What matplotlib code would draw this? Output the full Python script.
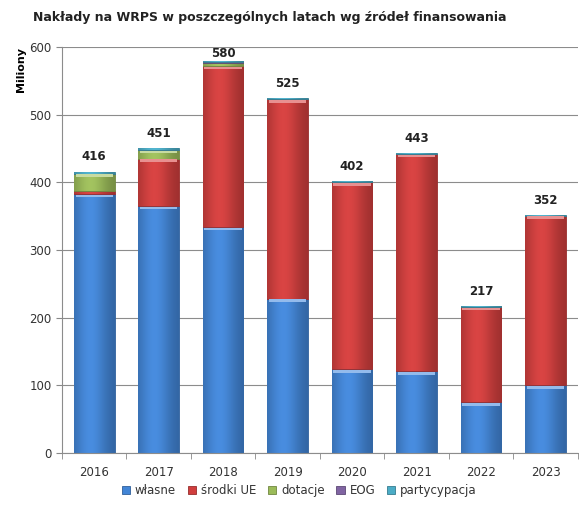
import numpy as np
import matplotlib
matplotlib.use("Agg")
import matplotlib.pyplot as plt
from matplotlib.colors import to_rgb

# dane (mln zł)
lata = ["2016", "2017", "2018", "2019", "2020", "2021", "2022", "2023"]
wlasne = [383, 365, 334, 228, 124, 121, 75, 100]
srodki_ue = [4, 70, 238, 295, 276, 321, 141, 251]
dotacje = [26, 13, 4, 0, 0, 0, 0, 0]
eog = [0, 0, 2, 0, 0, 0, 0, 0]
partycypacja = [3, 3, 2, 2, 2, 1, 1, 1]
sumy = [416, 451, 580, 525, 402, 443, 217, 352]

serie = ["własne", "środki UE", "dotacje", "EOG", "partycypacja"]
kolory = ["#4285d6", "#d03e3d", "#9bbb59", "#8064a2", "#4bacc6"]


def gradient_slupka(ax, patch, kolor):
    # poziomy gradient w stylu Excela, przycięty do prostokąta
    x0, y0 = patch.get_x(), patch.get_y()
    w, h = patch.get_width(), patch.get_height()
    if h <= 0:
        return
    c = np.array(to_rgb(kolor))
    ciemny = c * 0.74
    jasny = np.clip(c * 1.02 + 0.02, 0, 1)
    t = np.linspace(0, 1, 64)
    p = np.exp(-((t - 0.4) / 0.4) ** 2)
    img = ciemny[None, :] + (jasny - ciemny)[None, :] * p[:, None]
    img = img[None, :, :]
    im = ax.imshow(img, extent=(x0, x0 + w, y0, y0 + h), aspect="auto",
                   interpolation="bilinear", zorder=2)
    im.set_clip_path(patch)
    # jasny pasek u góry segmentu
    if h > 10:
        ax.bar(x0 + w / 2, 4, width=w * 0.92, bottom=y0 + h - 5,
               color=np.clip(c * 0.6 + 0.42, 0, 1), zorder=3, linewidth=0)


fig = plt.figure(figsize=(5.79, 5.07), dpi=100)
ax = fig.add_axes([0.107, 0.1065, 0.891, 0.8005])

x = np.arange(len(lata))
szer = 0.63
dol = np.zeros(len(lata))
for nazwa, wart, kol in zip(serie, [wlasne, srodki_ue, dotacje, eog, partycypacja], kolory):
    wart = np.array(wart, dtype=float)
    slupki = ax.bar(x, wart, width=szer, bottom=dol, color=kol, label=nazwa,
                    edgecolor=np.array(to_rgb(kol)) * 0.72, linewidth=0.6, zorder=2)
    for p in slupki:
        gradient_slupka(ax, p, kol)
    dol += wart

for i, s in enumerate(sumy):
    ax.text(x[i], min(s + 22, 591), str(s), ha="center", va="center",
            fontsize=8.5, fontweight="bold", color="#222222")

ax.set_xlim(-0.5, len(lata) - 0.5)
ax.set_ylim(0, 600)
ax.set_yticks(np.arange(0, 601, 100))
ax.set_xticks(x)
ax.set_xticklabels(lata)
ax.set_xticks(np.arange(-0.5, len(lata), 1), minor=True)
ax.tick_params(axis="x", which="major", length=0, pad=9, labelsize=8.5, labelcolor="#333333")
ax.tick_params(axis="x", which="minor", length=4, color="#888888")
ax.tick_params(axis="y", length=4, color="#888888", labelsize=8.5, labelcolor="#333333")
ax.grid(axis="y", color="#8c8c8c", linewidth=0.8, zorder=0)
ax.set_axisbelow(True)
for k in ["top", "right"]:
    ax.spines[k].set_visible(False)
for k in ["left", "bottom"]:
    ax.spines[k].set_color("#8c8c8c")

ax.set_ylabel("Miliony", fontsize=8, fontweight="bold", rotation=90, va="top", ha="right")
ax.yaxis.set_label_coords(-0.09, 1.0)

fig.text(0.466, 0.965, "Nakłady na WRPS w poszczególnych latach wg źródeł finansowania",
         ha="center", va="center", fontsize=9, fontweight="bold", color="#222222")

leg = ax.legend(loc="center", bbox_to_anchor=(0.46, -0.092), ncol=5, frameon=False,
                fontsize=8.5, handlelength=0.7, handleheight=0.7, handletextpad=0.4,
                columnspacing=1.0, borderpad=0.1)
for t in leg.get_texts():
    t.set_color("#333333")

fig.savefig("out.png", dpi=100)
